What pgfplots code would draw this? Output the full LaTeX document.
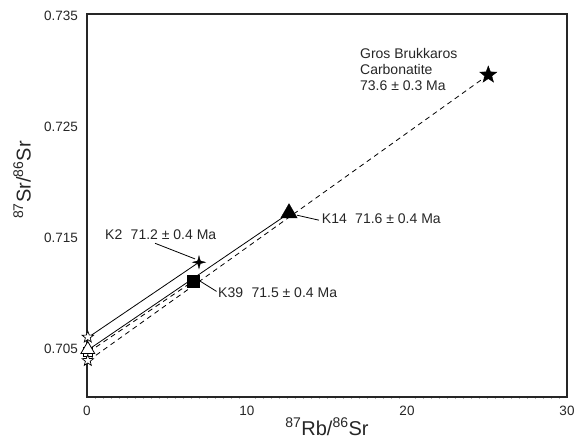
\documentclass[border=0pt]{standalone}
\usepackage{pgfplots}
\pgfplotsset{compat=1.18}
\usepackage{fontspec}
\setmainfont{Liberation Sans}
\usetikzlibrary{plotmarks}

\pgfdeclareplotmark{fstar}{%
  \pgfpathmoveto{\pgfpointpolar{90}{\pgfplotmarksize}}%
  \pgfpathlineto{\pgfpointpolar{126}{0.42\pgfplotmarksize}}%
  \pgfpathlineto{\pgfpointpolar{162}{\pgfplotmarksize}}%
  \pgfpathlineto{\pgfpointpolar{198}{0.42\pgfplotmarksize}}%
  \pgfpathlineto{\pgfpointpolar{234}{\pgfplotmarksize}}%
  \pgfpathlineto{\pgfpointpolar{270}{0.42\pgfplotmarksize}}%
  \pgfpathlineto{\pgfpointpolar{306}{\pgfplotmarksize}}%
  \pgfpathlineto{\pgfpointpolar{342}{0.42\pgfplotmarksize}}%
  \pgfpathlineto{\pgfpointpolar{18}{\pgfplotmarksize}}%
  \pgfpathlineto{\pgfpointpolar{54}{0.42\pgfplotmarksize}}%
  \pgfpathclose\pgfusepathqfillstroke}
\pgfdeclareplotmark{qstar}{%
  \pgfpathmoveto{\pgfpointpolar{90}{\pgfplotmarksize}}%
  \pgfpathlineto{\pgfpointpolar{135}{0.3\pgfplotmarksize}}%
  \pgfpathlineto{\pgfpointpolar{180}{\pgfplotmarksize}}%
  \pgfpathlineto{\pgfpointpolar{225}{0.3\pgfplotmarksize}}%
  \pgfpathlineto{\pgfpointpolar{270}{\pgfplotmarksize}}%
  \pgfpathlineto{\pgfpointpolar{315}{0.3\pgfplotmarksize}}%
  \pgfpathlineto{\pgfpointpolar{0}{\pgfplotmarksize}}%
  \pgfpathlineto{\pgfpointpolar{45}{0.3\pgfplotmarksize}}%
  \pgfpathclose\pgfusepathqfillstroke}

\begin{document}
\begin{tikzpicture}
\begin{axis}[
  scale only axis, width=480pt, height=383pt,
  xmin=0, xmax=30, ymin=0.70065, ymax=0.73518,
  clip=false,
  axis line style={line width=1.3pt, black!85},
  xtick={0,10,20,30}, xticklabels={0,10,20,30},
  ytick={0.705,0.715,0.725,0.735}, yticklabels={0.705,0.715,0.725,0.735},
  major tick length=0pt,
  minor x tick num=19,
  minor tick style={black!30, line width=0.4pt},
  minor tick length=2pt,
  tick align=outside,
  ytick style={draw=none},
  xtick pos=bottom, ytick pos=left,
  ticklabel style={font=\fontsize{13.5}{15}\selectfont, black!85},
  xticklabel style={inner sep=0pt, yshift=-9pt},
  yticklabel style={inner sep=0pt, xshift=-9pt},
  xlabel={\textsuperscript{87}Rb/\textsuperscript{86}Sr},
  ylabel={\textsuperscript{87}Sr/\textsuperscript{86}Sr},
  label style={font=\fontsize{20}{24}\selectfont, black!85},
  xlabel style={at={(axis description cs:0.5,0)}, anchor=base, yshift=-38pt},
  ylabel style={at={(axis description cs:-0.1354,0.5666)}, anchor=center},
]
% isochron lines
\addplot[black, line width=0.8pt] coordinates {(0.1,0.70605) (7.0,0.71280)};
\addplot[black, line width=0.8pt] coordinates {(0.1,0.70493) (12.625,0.71722)};
\addplot[black, line width=0.8pt, dash pattern=on 5pt off 4pt] coordinates {(0.1,0.70470) (6.625,0.71108)};
\addplot[black, line width=0.8pt, dash pattern=on 5pt off 4pt] coordinates {(0.1,0.70394) (25.08,0.72969)};
% pointer lines
\addplot[black, line width=0.8pt] coordinates {(4.25,0.71451) (6.75,0.71310)};
\addplot[black, line width=0.8pt] coordinates {(6.95,0.71120) (8.1,0.71017)};
\addplot[black, line width=0.8pt] coordinates {(13.125,0.71704) (14.5,0.71659)};
% open symbols (initial ratios)
\addplot[only marks, mark=square*, mark size=4.5pt, mark options={fill=white, draw=black, line width=0.8pt}] coordinates {(0.05,0.70475)};
\addplot[only marks, mark=triangle*, mark size=8pt, mark options={fill=white, draw=black, line width=0.8pt}] coordinates {(0.05,0.70493)};
\addplot[only marks, mark=fstar, mark size=6pt, mark options={fill=white, draw=black, line width=0.7pt}] coordinates {(0.05,0.70605)};
\addplot[only marks, mark=fstar, mark size=6pt, mark options={fill=white, draw=black, line width=0.7pt}] coordinates {(0.05,0.70394)};
% filled symbols
\addplot[only marks, mark=fstar, mark size=9pt, mark options={fill=black, draw=black, line width=0.3pt}] coordinates {(25.08,0.72969)};
\addplot[only marks, mark=triangle*, mark size=9.5pt, mark options={fill=black, draw=black}] coordinates {(12.625,0.71722)};
\addplot[only marks, mark=qstar, mark size=6.5pt, mark options={fill=black, draw=black, line width=0.3pt}] coordinates {(7.0,0.71280)};
\addplot[only marks, mark=square*, mark size=6pt, mark options={fill=black, draw=black}] coordinates {(6.625,0.71108)};
% annotations
\begin{scope}[every node/.style={font=\fontsize{14}{16}\selectfont, black!85, inner sep=0pt, anchor=base west}]
\node at (axis cs:17.06,0.73114) {Gros Brukkaros};
\node at (axis cs:17.06,0.72970) {Carbonatite};
\node at (axis cs:17.06,0.72827) {73.6 ± 0.3 Ma};
\node at (axis cs:1.125,0.71487) {K2\hspace{0.6em}71.2 ± 0.4 Ma};
\node at (axis cs:8.19,0.70963) {K39\hspace{0.6em}71.5 ± 0.4 Ma};
\node at (axis cs:14.67,0.71632) {K14\hspace{0.6em}71.6 ± 0.4 Ma};
\end{scope}
\end{axis}
\pgfresetboundingbox
\path[use as bounding box] (-87pt,-47pt) rectangle (488pt,397pt);
\end{tikzpicture}
\end{document}
